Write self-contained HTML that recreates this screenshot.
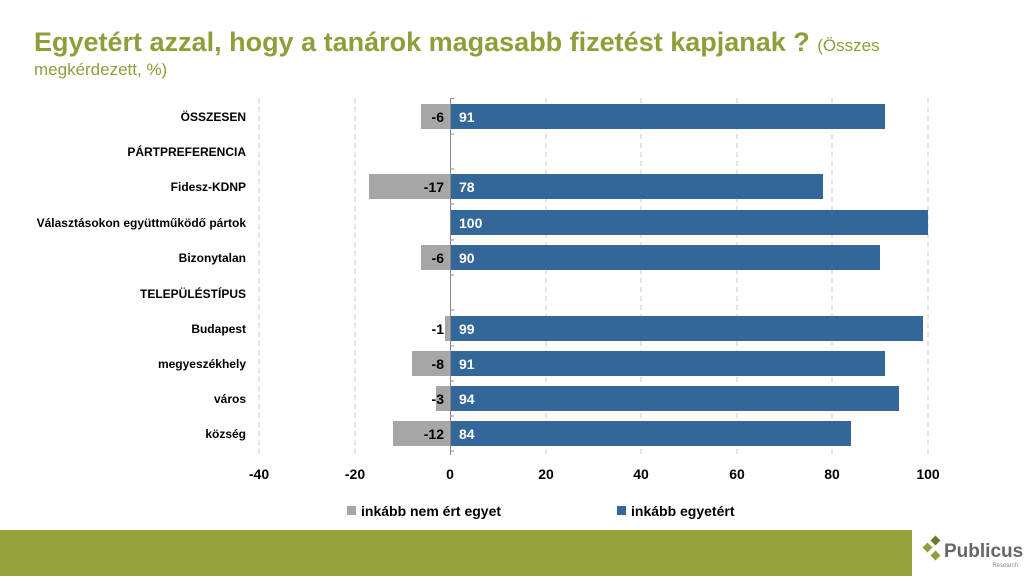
<!DOCTYPE html>
<html><head><meta charset="utf-8"><style>
body{margin:0;width:1024px;height:576px;background:#fff;overflow:hidden;font-family:"Liberation Sans",Arial,sans-serif}
</style></head><body>
<svg width="1024" height="576" viewBox="0 0 1024 576" xmlns="http://www.w3.org/2000/svg" font-family="Liberation Sans, Arial, sans-serif">
<text x="34" y="51" font-size="27" font-weight="bold" fill="#8E9F3A">Egyetért azzal, hogy a tanárok magasabb fizetést kapjanak ? <tspan font-size="17" font-weight="normal">(Összes</tspan></text>
<text x="34" y="75" font-size="17" fill="#8E9F3A">megkérdezett, %)</text>
<g stroke="#c8c8c8" stroke-dasharray="5,4" stroke-width="1">
<line x1="259" y1="98" x2="259" y2="455"/><line x1="355" y1="98" x2="355" y2="455"/>
<line x1="546" y1="98" x2="546" y2="455"/><line x1="641" y1="98" x2="641" y2="455"/>
<line x1="737" y1="98" x2="737" y2="455"/><line x1="832" y1="98" x2="832" y2="455"/>
<line x1="928" y1="98" x2="928" y2="455"/>
</g>
<g fill="#A6A6A6">
<rect x="421" y="104" width="29" height="25"/><rect x="369" y="174" width="81" height="25"/>
<rect x="421" y="245" width="29" height="25"/><rect x="445" y="316" width="5" height="25"/>
<rect x="412" y="351" width="38" height="25"/><rect x="436" y="386" width="14" height="25"/>
<rect x="393" y="421" width="57" height="25"/>
</g>
<g fill="#336699">
<rect x="450" y="104" width="435" height="25"/><rect x="450" y="174" width="373" height="25"/>
<rect x="450" y="210" width="478" height="25"/><rect x="450" y="245" width="430" height="25"/>
<rect x="450" y="316" width="473" height="25"/><rect x="450" y="351" width="435" height="25"/>
<rect x="450" y="386" width="449" height="25"/><rect x="450" y="421" width="401" height="25"/>
</g>
<g stroke="#888" stroke-width="1">
<line x1="450.5" y1="98" x2="450.5" y2="455"/>
<line x1="450" y1="98.5" x2="454" y2="98.5"/><line x1="450" y1="134" x2="454" y2="134"/>
<line x1="450" y1="169" x2="454" y2="169"/><line x1="450" y1="204" x2="454" y2="204"/>
<line x1="450" y1="240" x2="454" y2="240"/><line x1="450" y1="275" x2="454" y2="275"/>
<line x1="450" y1="310" x2="454" y2="310"/><line x1="450" y1="346" x2="454" y2="346"/>
<line x1="450" y1="381" x2="454" y2="381"/><line x1="450" y1="416" x2="454" y2="416"/>
<line x1="450" y1="451" x2="454" y2="451"/>
</g>
<g font-size="14" font-weight="bold" fill="#000" text-anchor="end">
<text x="444" y="122">-6</text><text x="444" y="192">-17</text><text x="444" y="263">-6</text>
<text x="444" y="334">-1</text><text x="444" y="369">-8</text><text x="444" y="404">-3</text><text x="444" y="439">-12</text>
</g>
<g font-size="14" font-weight="bold" fill="#fff">
<text x="459" y="122">91</text><text x="459" y="192">78</text><text x="459" y="228">100</text><text x="459" y="263">90</text>
<text x="459" y="334">99</text><text x="459" y="369">91</text><text x="459" y="404">94</text><text x="459" y="439">84</text>
</g>
<g font-size="12" font-weight="bold" fill="#000" text-anchor="end">
<text x="246" y="121">ÖSSZESEN</text><text x="246" y="156">PÁRTPREFERENCIA</text>
<text x="246" y="191">Fidesz-KDNP</text><text x="246" y="227">Választásokon együttműködő pártok</text>
<text x="246" y="262">Bizonytalan</text><text x="246" y="298">TELEPÜLÉSTÍPUS</text>
<text x="246" y="333">Budapest</text><text x="246" y="368">megyeszékhely</text>
<text x="246" y="403">város</text><text x="246" y="438">község</text>
</g>
<g font-size="14" font-weight="bold" fill="#000" text-anchor="middle">
<text x="259" y="479">-40</text><text x="355" y="479">-20</text><text x="450" y="479">0</text>
<text x="546" y="479">20</text><text x="641" y="479">40</text><text x="737" y="479">60</text>
<text x="832" y="479">80</text><text x="928" y="479">100</text>
</g>
<rect x="347" y="506" width="9" height="9" fill="#A6A6A6"/>
<text x="361" y="516" font-size="14" font-weight="bold">inkább nem ért egyet</text>
<rect x="617" y="506" width="9" height="9" fill="#336699"/>
<text x="631" y="516" font-size="14" font-weight="bold">inkább egyetért</text>
<rect x="0" y="530" width="912" height="46" fill="#94A33C"/>
<g fill="#8E9F3A">
<rect x="924" y="544" width="7" height="7" transform="rotate(45 927.5 547.5)"/>
<rect x="932" y="537" width="7" height="7" transform="rotate(45 935.5 540.5)" fill="#6B7A2A"/>
<rect x="932" y="552" width="7" height="7" transform="rotate(45 935.5 555.5)"/>
</g>
<text x="944" y="557" font-size="19" font-weight="bold" fill="#666">Publicus</text>
<text x="1018" y="567" font-size="6" fill="#888" text-anchor="end">Research</text>
</svg>
</body></html>
